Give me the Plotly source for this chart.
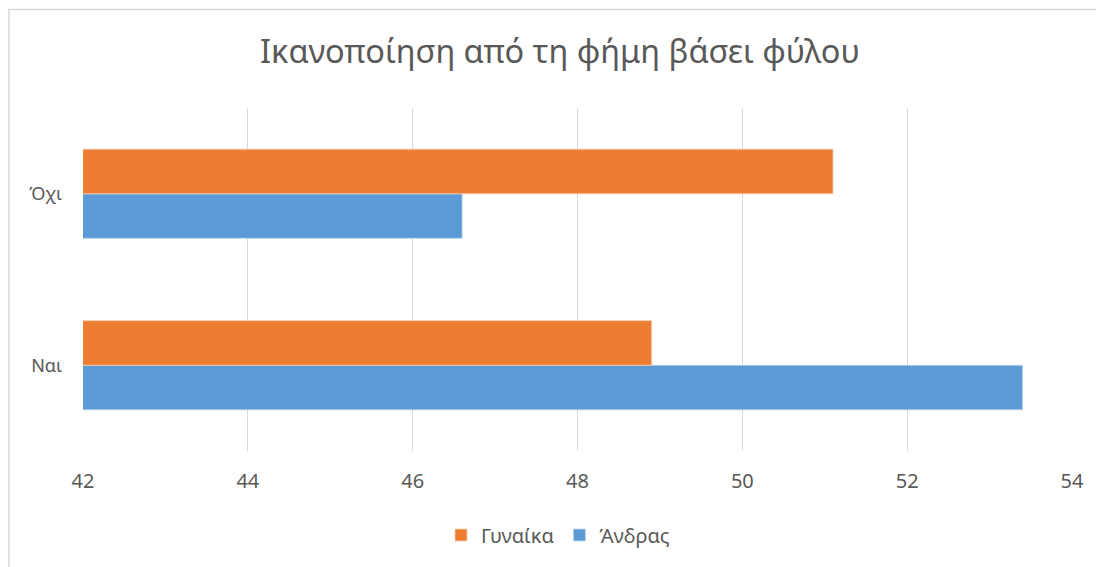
import plotly.graph_objects as go

categories = ["Ναι", "Όχι"]
gynaika = [48.9, 51.1]
andras = [53.4, 46.6]
x_ticks = [42, 44, 46, 48, 50, 52, 54]

OFF = 8  # page body margin
W, H = 1104 - OFF, 567 - OFF
L, R, T, B = 83 - OFF, 32, 108 - OFF, 116
pw, ph = W - L - R, H - T - B

def px_x(px):
    return (px - OFF - L) / pw

def px_y(py):
    return (H - B - (py - OFF)) / ph

fig = go.Figure()
fig.add_trace(go.Bar(
    y=categories, x=andras, name="Άνδρας", orientation="h",
    marker=dict(color="#5B9BD5", line=dict(color="#BDD7EE", width=0.8)),
))
fig.add_trace(go.Bar(
    y=categories, x=gynaika, name="Γυναίκα", orientation="h",
    marker=dict(color="#ED7D31", line=dict(color="#F8CBAD", width=0.8)),
))

border = dict(color="#D9D9D9", width=1.5)
fig.update_layout(
    width=W, height=H,
    margin=dict(l=L, r=R, t=T, b=B),
    paper_bgcolor="white", plot_bgcolor="white",
    barmode="group", bargap=0.48, bargroupgap=0,
    font=dict(family="Noto Sans", color="#595959", size=18),
    title=dict(text="Ικανοποίηση από τη φήμη βάσει φύλου",
               x=(560 - OFF) / W, xanchor="center",
               y=1 - (52 - OFF) / H, yanchor="middle",
               font=dict(size=32.5, color="#595959", family="Noto Sans")),
    legend=dict(orientation="h", traceorder="reversed",
                x=px_x(558), xanchor="center", y=px_y(535), yanchor="middle",
                font=dict(size=20, color="#595959")),
    xaxis=dict(range=[42, 54], tickvals=x_ticks, showgrid=True,
               gridcolor="#D9D9D9", gridwidth=1, zeroline=False,
               showline=False, ticks="", ticklabelstandoff=16,
               tickfont=dict(size=20, color="#595959")),
    yaxis=dict(showgrid=False, zeroline=False, showline=False, ticks="",
               ticklabelstandoff=20,
               tickfont=dict(size=18, color="#595959")),
    shapes=[
        dict(type="line", xref="paper", yref="paper",
             x0=px_x(8), x1=px_x(1110), y0=px_y(9.5), y1=px_y(9.5),
             line=border, layer="below"),
        dict(type="line", xref="paper", yref="paper",
             x0=px_x(9), x1=px_x(9), y0=px_y(9.5), y1=px_y(580),
             line=border, layer="below"),
    ],
)

fig.write_html("out.html")
